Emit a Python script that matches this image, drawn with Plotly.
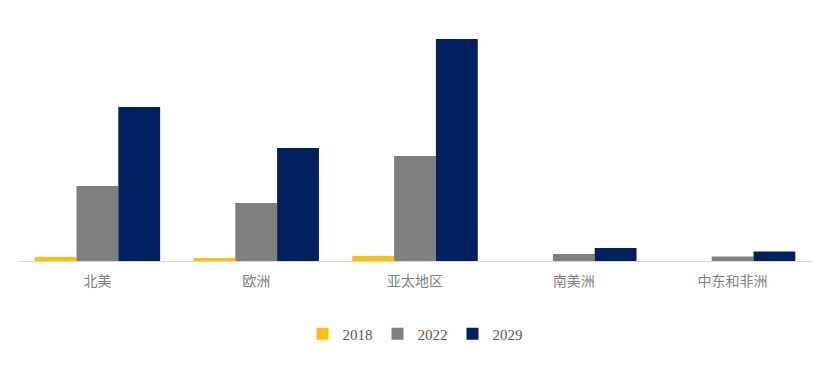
import plotly.graph_objects as go

categories = ["北美", "欧洲", "亚太地区", "南美洲", "中东和非洲"]
series_names = ["2018", "2022", "2029"]
values_2018 = [4, 3, 5, 0, 0]
values_2022 = [75, 58, 105, 7, 4.5]
values_2029 = [154, 113, 222, 13, 9.5]
colors = ["#FFC000", "#7F7F7F", "#002060"]

fig = go.Figure()
for name, vals, col in zip(series_names, [values_2018, values_2022, values_2029], colors):
    fig.add_trace(go.Bar(x=categories, y=vals, name=name, marker=dict(color=col, line=dict(width=0))))

fig.update_layout(
    width=821, height=366,
    barmode="group", bargap=0.21, bargroupgap=0,
    plot_bgcolor="white", paper_bgcolor="white",
    margin=dict(l=10, r=17, t=12, b=113),
    xaxis=dict(showline=True, linecolor="#D9D9D9", linewidth=1, ticks="outside", ticklen=7,
               tickcolor="rgba(0,0,0,0)",
               tickfont=dict(family="Noto Sans CJK SC", size=14, color="#7F7F7F")),
    yaxis=dict(range=[0, 241], showgrid=False, showticklabels=False, zeroline=False, showline=False),
    legend=dict(orientation="h", x=0.5, xanchor="center", y=-0.303, yanchor="middle",
                font=dict(family="Liberation Serif", size=15, color="#595959"), itemwidth=30),
    showlegend=True,
)

fig.write_html("out.html")
